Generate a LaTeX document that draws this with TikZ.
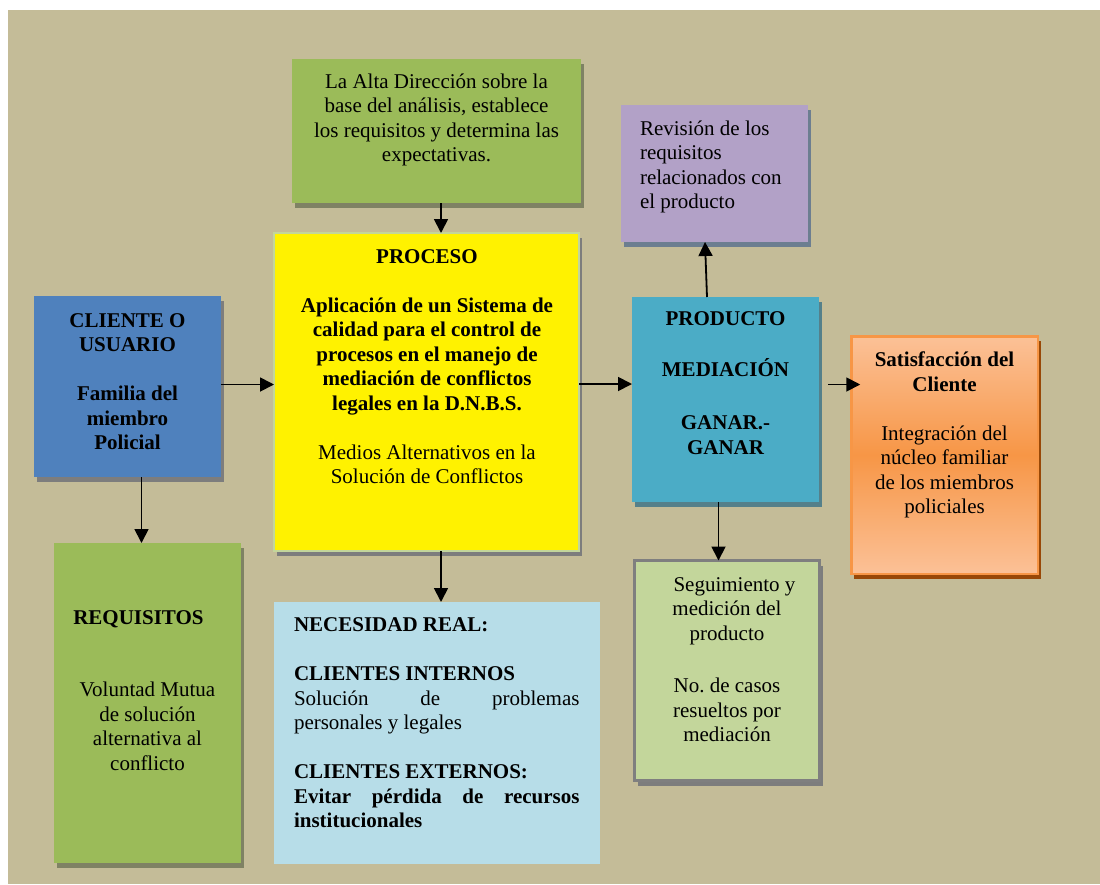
\documentclass[tikz,border=0pt]{standalone}
\usepackage{fontspec}
\setmainfont{Liberation Serif}
\usetikzlibrary{arrows.meta,shadows}
\frenchspacing

\definecolor{bgtan}{HTML}{C4BC98}
\definecolor{leafgreen}{HTML}{9BBB59}
\definecolor{lilac}{HTML}{B2A1C7}
\definecolor{steelblue}{HTML}{4F81BD}
\definecolor{aqua}{HTML}{4BACC6}
\definecolor{paleaqua}{HTML}{B7DDE8}
\definecolor{palegreen}{HTML}{C3D69B}
\definecolor{orangemid}{HTML}{F79646}
\definecolor{orangelight}{HTML}{FBC197}
\definecolor{orangedark}{HTML}{984807}
\definecolor{shadeolive}{HTML}{7F8264}
\definecolor{shadegray}{HTML}{7D7D7D}
\definecolor{shadeaqua}{HTML}{55808A}
\definecolor{shadelilac}{HTML}{6C7E90}
\definecolor{framegray}{HTML}{7F7F7F}

\tikzset{
  box/.style={inner sep=0pt, outer sep=0pt, rectangle},
  shade/.style={drop shadow={shadow xshift=3pt, shadow yshift=-5pt, fill=#1, opacity=1}},
  txt/.style={inner sep=0pt, outer sep=0pt, anchor=north, align=center,
              font=\fontsize{21}{24.5}\selectfont},
  arr/.style={line width=1.8pt, -{Triangle[length=14pt,width=14pt]}},
}

\begin{document}
\begin{tikzpicture}[x=1pt, y=-1pt]
  \useasboundingbox (0,0) rectangle (1100,884);
  \fill[white] (0,0) rectangle (1100,884);
  \fill[bgtan] (8,10) rectangle (1100,884);

  % boxes
  \node[box, shade=shadeolive, fill=leafgreen, minimum width=289pt, minimum height=144pt] (alta) at (436.5,131) {};
  \node[box, shade=shadelilac, fill=lilac, minimum width=187pt, minimum height=137pt] (rev) at (714.5,173.5) {};
  \node[box, shade=shadegray, fill=steelblue, minimum width=187pt, minimum height=181pt] (cli) at (127.5,386.5) {};
  \node[box, shade=shadegray, fill=yellow, draw=palegreen, line width=2pt, minimum width=305pt, minimum height=318pt] (proc) at (426.5,392) {};
  \node[box, shade=shadeaqua, fill=aqua, minimum width=187pt, minimum height=205pt] (prod) at (725.5,399.5) {};
  \node[box, shade=orangedark, draw=orangemid, line width=2.5pt,
        top color=orangelight, bottom color=orangelight, middle color=orangemid,
        minimum width=186.5pt, minimum height=237.5pt] (sat) at (944.5,455) {};
  \node[box, shade=shadeolive, fill=leafgreen, minimum width=187pt, minimum height=320pt] (req) at (147.5,703) {};
  \node[box, fill=paleaqua, minimum width=326pt, minimum height=262pt] (nec) at (437,733) {};
  \node[box, shade=shadegray, fill=palegreen, draw=framegray, line width=3pt, minimum width=185pt, minimum height=220pt] (seg) at (727,670.5) {};

  % texts
  \node[txt] (altaT) at (436.5,70.85) {\strut La Alta Dirección sobre la\\base del análisis, establece\\los requisitos y determina las\\expectativas.};
  \node[txt, anchor=north west, align=left] (revT) at (640,117.85) {\strut Revisión de los\\requisitos\\relacionados con\\el producto};
  \node[txt, font=\fontsize{21}{24.5}\selectfont\bfseries] (cliT) at (127.5,309.85)
    {\strut CLIENTE O\\USUARIO\\[24.5pt]Familia del\\miembro\\Policial};
  \node[txt, font=\fontsize{21}{24.5}\selectfont\bfseries] (procT) at (427,246.15)
    {\strut PROCESO\\[24.5pt]Aplicación de un Sistema de\\calidad para el control de\\procesos en el manejo de\\mediación de conflictos\\legales en la D.N.B.S.\\[24.5pt]{\mdseries Medios Alternativos en la}\\{\mdseries Solución de Conflictos}};
  \node[txt, font=\fontsize{21}{24.5}\selectfont\bfseries] (prodT) at (725.5,308.55)
    {\strut PRODUCTO\\[24.1pt]MEDIACIÓN\\[28.9pt]GANAR.-\\GANAR};
  \node[txt] (satT) at (944.5,349.55)
    {\strut\bfseries Satisfacción del\\{\bfseries Cliente}\\[24.5pt]Integración del\\núcleo familiar\\de los miembros\\policiales};
  \node[txt, anchor=north west, font=\fontsize{21}{24.5}\selectfont\bfseries] (reqH) at (73.3,607.15) {\strut REQUISITOS};
  \node[txt] (reqT) at (147.5,679.55) {\strut Voluntad Mutua\\de solución\\alternativa al\\conflicto};
  \node[txt, anchor=north west, align=left] (necT) at (294,614.55)
    {\strut\textbf{NECESIDAD REAL:}\\[24.5pt]
     \textbf{CLIENTES INTERNOS}\\
     \makebox[285.5pt][s]{Solución de problemas}\\
     personales y legales\\[24.5pt]
     \textbf{CLIENTES EXTERNOS:}\\
     \makebox[285.5pt][s]{\bfseries Evitar pérdida de recursos}\\
     \textbf{institucionales}};
  \node[txt] (segT) at (727,573.85)
    {\strut\hspace*{15pt}Seguimiento y\\medición del\\producto\\[28pt]No. de casos\\resueltos por\\mediación};

  % connectors
  \draw[arr] ([xshift=4.5pt]alta.south) -- ([xshift=4.5pt]alta.south |- proc.north);
  \draw[arr] ([yshift=2pt]cli.east) -- ([yshift=2pt]cli.east -| proc.west);
  \draw[arr] ([xshift=-6pt]req.north |- cli.south) -- ([xshift=-6pt]req.north);
  \draw[arr] ([xshift=4pt]nec.north |- proc.south) -- ([xshift=4pt]nec.north);
  \draw[arr] ([yshift=8pt]proc.east) -- ([yshift=8pt]proc.east -| prod.west);
  \draw[arr] ([xshift=-18.5pt]prod.north) -- ([xshift=-9.5pt]rev.south);
  \draw[arr] ([xshift=-7pt]prod.south) -- ([xshift=-7pt]prod.south |- seg.north);
  \draw[arr] ([xshift=9pt,yshift=15pt]prod.east) -- ([xshift=9pt,yshift=15pt]prod.east -| sat.west);
\end{tikzpicture}
\end{document}
